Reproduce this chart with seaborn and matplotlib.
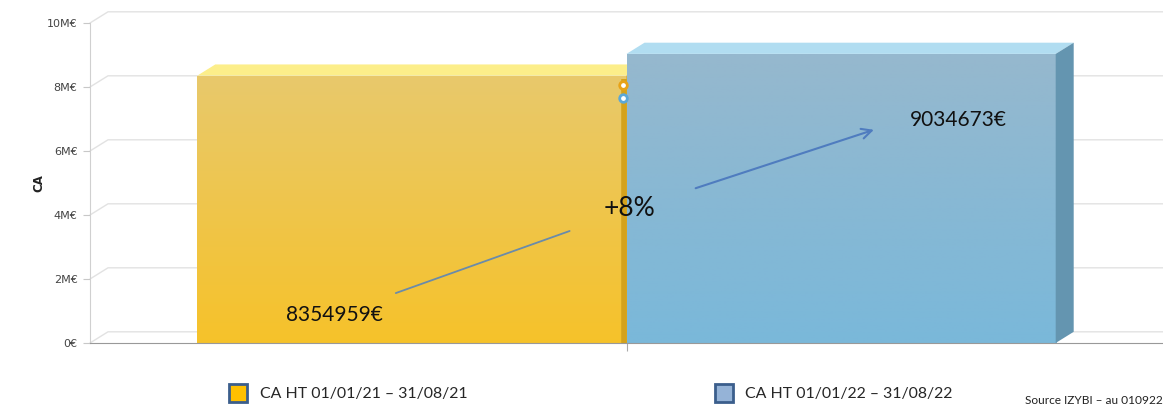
import numpy as np
import pandas as pd
import matplotlib
matplotlib.use("Agg")
import matplotlib.pyplot as plt
import matplotlib.patches as mpatches
from matplotlib.ticker import FuncFormatter
import seaborn as sns

# Chart data
periods = ["CA HT 01/01/21 – 31/08/21", "CA HT 01/01/22 – 31/08/22"]
ca_values = [8354959, 9034673]
ring_values = [8.06e6, 7.66e6]   # the two small ring markers at the centre
y_ticks = [0, 2e6, 4e6, 6e6, 8e6, 10e6]

front_top = ["#E8C96C", "#96B8CE"]
front_bottom = ["#F6C22A", "#7AB8DA"]
top_face = ["#FCEE8A", "#B1DDF1"]
side_face = ["#D4A21C", "#6495B0"]
legend_col = ["#FFC000", "#95B3D7"]
ring_col = ["#E8A317", "#5BA8D8"]

sns.set_style("white")
plt.rcParams['font.family'] = ['DejaVu Sans']

df = pd.DataFrame({"cat": ["CA", "CA"], "period": periods, "ca": ca_values})

fig = plt.figure(figsize=(11.63, 4.09), dpi=100)
ax = fig.add_axes([90/1163, 66/409, 1 - 90/1163, 320/409])

sns.barplot(data=df, x="cat", y="ca", hue="period", palette=front_bottom,
            width=0.8, legend=False, ax=ax, saturation=1)

ax.set_xlim(-0.5, 0.5)
ax.set_ylim(0, 10e6)
dx = 18 / 1073          # depth in x (data units)
dy = 0.35e6             # depth in y

# 3D-looking grid lines
for t in y_ticks:
    ax.plot([-0.5, -0.5 + dx, 0.5], [t, t + dy, t + dy], color="#e2e2e2",
            lw=1, zorder=0, clip_on=False)

bars = [c[0] for c in ax.containers]
for i, b in enumerate(bars):
    z = 2 + i
    x0, w, h = b.get_x(), b.get_width(), b.get_height()
    b.set_zorder(z)
    b.set_edgecolor("none")
    grad = np.linspace(0, 1, 256).reshape(-1, 1)
    cmap = matplotlib.colors.LinearSegmentedColormap.from_list(
        "g%d" % i, [front_bottom[i], front_top[i]])
    im = ax.imshow(grad, cmap=cmap, origin="lower", aspect="auto",
                   extent=[x0, x0 + w, 0, h], zorder=z)
    im.set_clip_path(b)
    top = mpatches.Polygon([[x0, h], [x0 + dx, h + dy], [x0 + w + dx, h + dy], [x0 + w, h]],
                           closed=True, facecolor=top_face[i], edgecolor="none",
                           zorder=z, clip_on=False)
    side = mpatches.Polygon([[x0 + w, 0], [x0 + w + dx, dy], [x0 + w + dx, h + dy], [x0 + w, h]],
                            closed=True, facecolor=side_face[i], edgecolor="none",
                            zorder=z, clip_on=False)
    ax.add_patch(top)
    ax.add_patch(side)
    if i == 0:
        ax.plot([x0 + w - 0.002, x0 + w - 0.002], [0, h - 0.1e6],
                color=side_face[0], lw=4, zorder=2.5, solid_capstyle="butt")

ax.set_xlim(-0.5, 0.5)
ax.set_ylim(0, 10e6)

# small ring markers
for v, c in zip(ring_values, ring_col):
    ax.scatter([-0.003], [v], s=30, facecolor="white", edgecolor=c,
               linewidth=2, zorder=5)

# annotations
lat = ["Lato", "DejaVu Sans"]
ax.text(-0.317, 0.875e6, f"{ca_values[0]}€", fontsize=15, family=lat,
        color="#111", va="center", ha="left", zorder=6)
ax.text(0.264, 6.97e6, f"{ca_values[1]}€", fontsize=15, family=lat,
        color="#111", va="center", ha="left", zorder=6)
growth = round((ca_values[1] / ca_values[0] - 1) * 100)
ax.text(0.003, 4.2e6, f"+{growth}%", fontsize=19, family=lat,
        color="#111", va="center", ha="center", zorder=6)
ax.plot([-0.215, -0.053], [1.56e6, 3.5e6], color="#6A8BAA", lw=1.3, zorder=6)
ax.annotate("", xy=(0.233, 6.69e6), xytext=(0.062, 4.81e6), zorder=6,
            arrowprops=dict(arrowstyle="->", color="#4F7CBF", lw=1.5,
                            mutation_scale=18))

# axes styling
ax.set_yticks(y_ticks)
ax.yaxis.set_major_formatter(FuncFormatter(lambda v, p: "0€" if v == 0 else "%dM€" % (v / 1e6)))
ax.tick_params(axis="y", labelsize=8, labelcolor="#444", length=5, color="#c8c8c8",
               left=True, pad=4)
ax.set_xticks([0])
ax.set_xticklabels([""])
ax.tick_params(axis="x", length=6, color="#aaa", bottom=True)
ax.set_xlabel("")
ax.set_ylabel("CA", fontsize=8.5, fontweight="bold", color="#222", labelpad=1)
for s in ["top", "right"]:
    ax.spines[s].set_visible(False)
ax.spines["left"].set_color("#d0d0d0")
ax.spines["bottom"].set_color("#999")
ax.spines["bottom"].set_zorder(7)

# legend below
handles = [mpatches.Patch(facecolor=c, edgecolor="#3B5E8C", linewidth=2) for c in legend_col]
fig.legend(handles, periods, loc="center left", bbox_to_anchor=(229/1163, 1 - 393/409),
           ncol=2, frameon=False, prop={"family": lat, "size": 11.4},
           handlelength=1.15, handleheight=1.3, handletextpad=0.8, columnspacing=15.6,
           borderpad=0, borderaxespad=0)
fig.text(1025/1163, 1 - 400/409, "Source IZYBI – au 010922", fontsize=8.6,
         family=lat, color="#222", va="center", ha="left")

fig.savefig("out.png", dpi=100)
